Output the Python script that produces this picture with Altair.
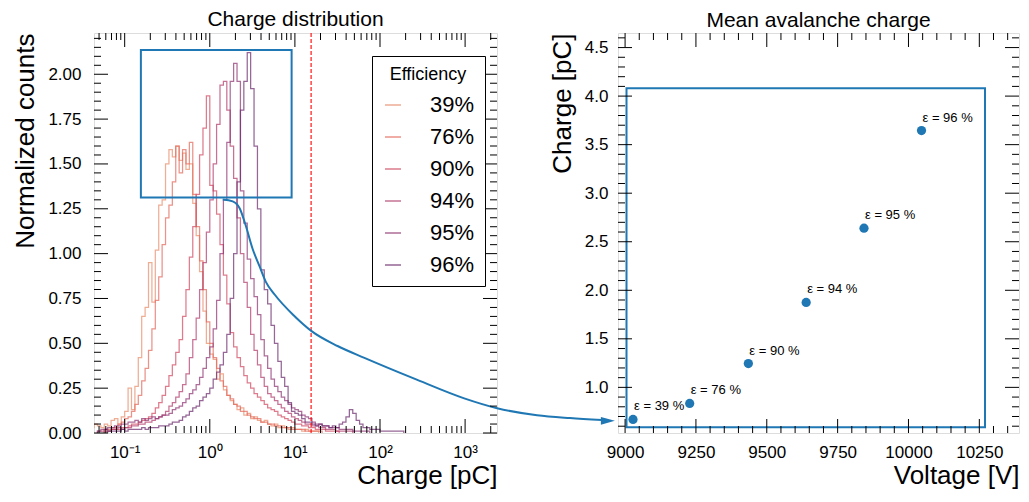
import altair as alt
import numpy as np
import pandas as pd

FONT = "Liberation Sans"
BLUE = "#1f77b4"

# ---------------- Left panel data: charge distributions ----------------
efficiencies = ["39%", "76%", "90%", "94%", "95%", "96%"]
line_colors = ["#e98d6b", "#e3685c", "#d14a61", "#b13c6c", "#8f3371", "#6c2b6d"]
log_bin_width = 0.04  # bins equally spaced in log10(charge)

start_39 = -1.40
counts_39 = [0.03, 0.05, 0.04, 0.03, 0.05, 0.04, 0.07, 0.08, 0.05, 0.09, 0.12, 0.25, 0.13, 0.26,
             0.42, 0.65, 0.70, 0.95, 0.73, 1.02, 1.27, 1.30, 1.50, 1.58, 1.54, 1.60, 1.52, 1.56,
             1.47, 1.50, 1.28, 1.10, 0.90, 0.68, 0.50, 0.44, 0.41, 0.30, 0.33, 0.24, 0.21, 0.18,
             0.16, 0.13, 0.14, 0.10, 0.11, 0.08, 0.09, 0.07, 0.06, 0.07, 0.05, 0.04, 0.05, 0.03,
             0.04, 0.03, 0.02, 0.03, 0.02, 0.02, 0.01, 0.02, 0.01, 0.01, 0.01]
start_76 = -1.24
counts_76 = [0.02, 0.02, 0.03, 0.03, 0.05, 0.06, 0.08, 0.09, 0.12, 0.16, 0.21, 0.29, 0.36, 0.46,
             0.58, 0.74, 0.87, 1.05, 1.20, 1.27, 1.40, 1.60, 1.45, 1.58, 1.50, 1.62, 1.33, 1.15,
             0.96, 0.80, 0.62, 0.50, 0.42, 0.36, 0.29, 0.26, 0.21, 0.19, 0.16, 0.15, 0.12, 0.12,
             0.10, 0.09, 0.08, 0.08, 0.06, 0.06, 0.05, 0.05, 0.04, 0.04, 0.03, 0.03, 0.03, 0.02,
             0.02, 0.02, 0.02, 0.01, 0.01, 0.01, 0.01, 0.01]
start_90 = -1.24
counts_90 = [0.01, 0.01, 0.02, 0.02, 0.02, 0.03, 0.03, 0.04, 0.05, 0.05, 0.06, 0.07, 0.08, 0.09,
             0.11, 0.14, 0.17, 0.21, 0.26, 0.32, 0.38, 0.45, 0.52, 0.65, 0.80, 0.98, 1.15, 1.33,
             1.55, 1.70, 1.88, 1.38, 1.35, 1.22, 1.05, 0.88, 0.72, 0.56, 0.48, 0.42, 0.37, 0.32,
             0.28, 0.25, 0.22, 0.20, 0.18, 0.16, 0.14, 0.13, 0.12, 0.10, 0.09, 0.08, 0.07, 0.06,
             0.05, 0.05, 0.04, 0.04, 0.03, 0.03, 0.02, 0.02, 0.02, 0.01, 0.01, 0.01, 0.01]
start_94 = -1.32
counts_94 = [0.01, 0.01, 0.02, 0.01, 0.02, 0.02, 0.03, 0.02, 0.03, 0.03, 0.04, 0.04, 0.05, 0.05,
             0.06, 0.06, 0.07, 0.08, 0.09, 0.10, 0.12, 0.15, 0.17, 0.20, 0.23, 0.27, 0.33, 0.42,
             0.52, 0.64, 0.80, 0.95, 1.12, 1.30, 1.50, 1.72, 1.94, 1.96, 1.80, 1.60, 1.42, 1.20,
             1.00, 0.84, 0.70, 0.55, 0.46, 0.38, 0.31, 0.26, 0.22, 0.20, 0.18, 0.16, 0.14, 0.12,
             0.11, 0.09, 0.08, 0.07, 0.06, 0.05, 0.05, 0.04, 0.04, 0.03, 0.03, 0.02, 0.02, 0.02,
             0.01, 0.01, 0.01, 0.01, 0.01]
start_95 = -1.32
counts_95 = [0.01, 0.02, 0.02, 0.03, 0.03, 0.04, 0.04, 0.05, 0.05, 0.06, 0.06, 0.07, 0.06, 0.08,
             0.07, 0.08, 0.09, 0.08, 0.09, 0.10, 0.10, 0.11, 0.13, 0.14, 0.15, 0.17, 0.19, 0.22,
             0.24, 0.27, 0.31, 0.36, 0.42, 0.48, 0.58, 0.74, 1.00, 1.30, 1.62, 1.96, 2.06, 1.96,
             1.35, 1.17, 0.97, 0.86, 0.76, 0.66, 0.52, 0.43, 0.36, 0.30, 0.26, 0.23, 0.20, 0.18,
             0.16, 0.14, 0.13, 0.12, 0.10, 0.09, 0.08, 0.06, 0.05, 0.05, 0.04, 0.04, 0.03, 0.03,
             0.03, 0.02, 0.02, 0.02, 0.02, 0.01, 0.01, 0.01, 0.01, 0.01]
start_96 = -1.20
counts_96 = [0.01, 0.01, 0.01, 0.01, 0.02, 0.01, 0.02, 0.02, 0.02, 0.02, 0.03, 0.02, 0.03, 0.03,
             0.03, 0.04, 0.04, 0.04, 0.05, 0.06, 0.06, 0.07, 0.09, 0.10, 0.12, 0.14, 0.15, 0.18,
             0.20, 0.22, 0.25, 0.30, 0.34, 0.38, 0.45, 0.55, 0.75, 1.00, 1.40, 1.80, 1.96, 2.12,
             1.92, 1.60, 1.25, 0.91, 0.80, 0.72, 0.60, 0.50, 0.40, 0.31, 0.26, 0.17, 0.12, 0.11,
             0.10, 0.08, 0.06, 0.06, 0.05, 0.04, 0.05, 0.04, 0.04, 0.03, 0.04, 0.03, 0.05, 0.06,
             0.09, 0.13, 0.11, 0.07, 0.05, 0.03, 0.03, 0.02, 0.02, 0.02, 0.01, 0.01, 0.01, 0.01,
             0.01, 0.01, 0.01]

hist_starts = [start_39, start_76, start_90, start_94, start_95, start_96]
hist_counts = [counts_39, counts_76, counts_90, counts_94, counts_95, counts_96]

threshold_pc = 15.5                      # red dashed line [pC]
zoom_box_left = {"x0": 0.155, "x1": 9.15, "y0": 1.313, "y1": 2.135}

# connector curve (in left-panel data units: pC, normalized counts)
conn_charge = [1.42, 1.86, 2.25, 2.64, 3.19, 3.86, 4.54, 5.78, 9.92, 15.7, 31.7, 65.6,
               253.0, 976.0, 2378.0, 7003.0, 17070.0, 40490.0]
conn_counts = [1.302, 1.291, 1.252, 1.158, 1.026, 0.927, 0.844, 0.772, 0.651, 0.568, 0.485,
               0.419, 0.303, 0.193, 0.138, 0.099, 0.083, 0.072]
arrow_tip = {"charge": 47600.0, "counts": 0.068}

# ---------------- Right panel data: mean avalanche charge ----------------
voltages = [9028, 9228, 9435, 9639, 9843, 10046]
mean_charge = [0.67, 0.835, 1.245, 1.875, 2.64, 3.645]
point_labels = ["ε = 39 %", "ε = 76 %", "ε = 90 %", "ε = 94 %", "ε = 95 %", "ε = 96 %"]
zoom_box_right = {"x0": 9005, "x1": 10270, "y0": 0.59, "y1": 4.08}

# axis ticks / labels
left_x_major = [0.1, 1, 10, 100, 1000]
left_x_major_labels = ["10⁻¹", "10⁰", "10¹", "10²", "10³"]
left_x_domain = [0.0436, 2370]
left_y_major = [0.0, 0.25, 0.5, 0.75, 1.0, 1.25, 1.5, 1.75, 2.0]
left_y_domain = [0.0, 2.23]
right_x_major = [9000, 9250, 9500, 9750, 10000, 10250]
right_x_domain = [8975, 10390]
right_y_major = [1.0, 1.5, 2.0, 2.5, 3.0, 3.5, 4.0, 4.5]
right_y_domain = [0.53, 4.65]

left_x_minor = [m * 10.0 ** e for e in range(-2, 4) for m in range(2, 10)
                if left_x_domain[0] <= m * 10.0 ** e <= left_x_domain[1]]
left_y_minor = [round(0.05 * i, 2) for i in range(0, 45) if round(0.05 * i, 2) not in left_y_major]
right_x_minor = [v for v in range(8950, 10400, 50)
                 if right_x_domain[0] <= v <= right_x_domain[1] and v not in right_x_major]
right_y_minor = [round(0.1 * i, 1) for i in range(6, 47)
                 if round(0.1 * i, 1) not in right_y_major and right_y_domain[0] <= 0.1 * i <= right_y_domain[1]]

WL, WR, H = 403, 401, 400
MAJ, MIN = 14, 7

# ---------------- build tables ----------------
rows = []
for eff, st, cnt in zip(efficiencies, hist_starts, hist_counts):
    edges = 10 ** (st + log_bin_width * np.arange(len(cnt) + 1))
    k = 0
    rows.append({"efficiency": eff, "charge": edges[0], "counts": 0.0, "idx": k}); k += 1
    for i, c in enumerate(cnt):
        rows.append({"efficiency": eff, "charge": edges[i], "counts": c, "idx": k}); k += 1
    rows.append({"efficiency": eff, "charge": edges[-1], "counts": 0.0, "idx": k})
hist_df = pd.DataFrame(rows)

conn_df = pd.DataFrame({"charge": conn_charge, "counts": conn_counts, "i": range(len(conn_charge))})
pts_df = pd.DataFrame({"voltage": voltages, "charge": mean_charge, "label": point_labels})

xs_left = alt.Scale(type="log", domain=left_x_domain, nice=False)
ys_left = alt.Scale(domain=left_y_domain, nice=False, zero=False)
xs_right = alt.Scale(domain=right_x_domain, nice=False, zero=False)
ys_right = alt.Scale(domain=right_y_domain, nice=False, zero=False)

label_expr = " : ".join(
    [f"datum.value < {v * 3.1622} ? '{lab}'" for v, lab in zip(left_x_major[:-1], left_x_major_labels[:-1])]
) + f" : '{left_x_major_labels[-1]}'"

axis_common = dict(ticks=False, domain=False, grid=False, labelFont=FONT, titleFont=FONT,
                   labelFontSize=17, titleFontSize=26, titleFontWeight="normal", labelColor="black",
                   titleColor="black", titleAnchor="end")

ax_left_x = alt.Axis(values=left_x_major, labelExpr=label_expr, title="Charge [pC]",
                     labelPadding=11, titlePadding=2, **axis_common)
ax_left_y = alt.Axis(values=left_y_major, format=".2f", title="Normalized counts",
                     labelPadding=13, titlePadding=9, **axis_common)
ax_right_x = alt.Axis(values=right_x_major, format="d", title="Voltage [V]",
                      labelPadding=11, titlePadding=2, **axis_common)
ax_right_y = alt.Axis(values=right_y_major, format=".1f", title="Charge [pC]",
                      labelPadding=10, titlePadding=9, **axis_common)


def x_ticks(values, xs, ax, length):
    d = pd.DataFrame({"t": values})
    base = alt.Chart(d).mark_rule(color="black", strokeWidth=1)
    bottom = base.encode(x=alt.X("t:Q", scale=xs, axis=ax, title=ax.title), y=alt.value(H), y2=alt.value(H - length))
    top = base.encode(x=alt.X("t:Q", scale=xs, axis=ax, title=ax.title), y=alt.value(0), y2=alt.value(length))
    return [bottom, top]


def y_ticks(values, ys, ax, length, width):
    d = pd.DataFrame({"t": values})
    base = alt.Chart(d).mark_rule(color="black", strokeWidth=1)
    left = base.encode(y=alt.Y("t:Q", scale=ys, axis=ax, title=ax.title), x=alt.value(0), x2=alt.value(length))
    right = base.encode(y=alt.Y("t:Q", scale=ys, axis=ax, title=ax.title), x=alt.value(width), x2=alt.value(width - length))
    return [left, right]


hist = alt.Chart(hist_df).mark_line(interpolate="step-after", strokeWidth=1.25, opacity=0.72, clip=True).encode(
    x=alt.X("charge:Q", scale=xs_left, axis=ax_left_x, title=ax_left_x.title),
    y=alt.Y("counts:Q", scale=ys_left, axis=ax_left_y, title=ax_left_y.title),
    color=alt.Color("efficiency:N", scale=alt.Scale(domain=efficiencies, range=line_colors),
                    legend=alt.Legend(title="Efficiency", orient="none", legendX=278, legendY=23,
                                      strokeColor="black", fillColor="white", padding=10,
                                      titleFont=FONT, titleFontSize=18, titleFontWeight="normal",
                                      titleColor="black", titleAnchor="middle", titlePadding=10,
                                      labelFont=FONT, labelFontSize=22, labelColor="black",
                                      labelOffset=26, rowPadding=10, symbolType="stroke",
                                      symbolSize=256, symbolStrokeWidth=1.5, symbolOpacity=0.72)),
    order="idx:Q",
)

thr = alt.Chart(pd.DataFrame({"thr": [threshold_pc]})).mark_rule(
    color="#ff0000", strokeDash=[4, 2], strokeWidth=1.1).encode(
    x=alt.X("thr:Q", scale=xs_left, axis=ax_left_x, title=ax_left_x.title))

box_left = alt.Chart(pd.DataFrame([zoom_box_left])).mark_rect(
    fillOpacity=0, stroke=BLUE, strokeWidth=2).encode(
    x=alt.X("x0:Q", scale=xs_left, axis=ax_left_x, title=ax_left_x.title), x2="x1:Q",
    y=alt.Y("y0:Q", scale=ys_left, axis=ax_left_y, title=ax_left_y.title), y2="y1:Q")

connector = alt.Chart(conn_df).mark_line(interpolate="monotone", color=BLUE, strokeWidth=2, clip=False).encode(
    x=alt.X("charge:Q", scale=xs_left, axis=ax_left_x, title=ax_left_x.title),
    y=alt.Y("counts:Q", scale=ys_left, axis=ax_left_y, title=ax_left_y.title), order="i:Q")

arrow = alt.Chart(pd.DataFrame([arrow_tip])).mark_point(
    shape="M-1,-0.55L1,0L-1,0.55Z", filled=True, color=BLUE, opacity=1, size=196, clip=False).encode(
    x=alt.X("charge:Q", scale=xs_left, axis=ax_left_x, title=ax_left_x.title),
    y=alt.Y("counts:Q", scale=ys_left, axis=ax_left_y, title=ax_left_y.title))

left_layers = [hist, thr, box_left, connector, arrow]
left_layers += x_ticks(left_x_major, xs_left, ax_left_x, MAJ) + x_ticks(left_x_minor, xs_left, ax_left_x, MIN)
left_layers += y_ticks(left_y_major, ys_left, ax_left_y, MAJ, WL) + y_ticks(left_y_minor, ys_left, ax_left_y, MIN, WL)

TITLE_OFFSET = -15
left = alt.layer(*left_layers).properties(
    width=WL, height=H,
    title=alt.Title("Charge distribution", font=FONT, fontSize=21, fontWeight="normal", color="black",
                    anchor="middle", baseline="alphabetic", offset=TITLE_OFFSET))

# right panel
points = alt.Chart(pts_df).mark_circle(size=85, color=BLUE, opacity=1).encode(
    x=alt.X("voltage:Q", scale=xs_right, axis=ax_right_x, title=ax_right_x.title),
    y=alt.Y("charge:Q", scale=ys_right, axis=ax_right_y, title=ax_right_y.title))

texts = alt.Chart(pts_df).mark_text(align="left", baseline="alphabetic", dx=1, dy=-9, fontSize=13,
                                     font=FONT, color="black").encode(
    x=alt.X("voltage:Q", scale=xs_right, axis=ax_right_x, title=ax_right_x.title),
    y=alt.Y("charge:Q", scale=ys_right, axis=ax_right_y, title=ax_right_y.title),
    text="label:N")

box_right = alt.Chart(pd.DataFrame([zoom_box_right])).mark_rect(
    fillOpacity=0, stroke=BLUE, strokeWidth=2).encode(
    x=alt.X("x0:Q", scale=xs_right, axis=ax_right_x, title=ax_right_x.title), x2="x1:Q",
    y=alt.Y("y0:Q", scale=ys_right, axis=ax_right_y, title=ax_right_y.title), y2="y1:Q")

right_layers = [box_right, points, texts]
right_layers += x_ticks(right_x_major, xs_right, ax_right_x, MAJ) + x_ticks(right_x_minor, xs_right, ax_right_x, MIN)
right_layers += y_ticks(right_y_major, ys_right, ax_right_y, MAJ, WR) + y_ticks(right_y_minor, ys_right, ax_right_y, MIN, WR)

right = alt.layer(*right_layers).properties(
    width=WR, height=H,
    title=alt.Title("Mean avalanche charge", font=FONT, fontSize=21, fontWeight="normal", color="black",
                    anchor="middle", baseline="alphabetic", offset=TITLE_OFFSET))

chart = alt.hconcat(left, right, spacing=121, bounds="flush",
                    padding={"left": 4, "top": 0, "right": 0, "bottom": 0}).resolve_scale(
    color="independent").configure_view(stroke="black", strokeWidth=1.2).configure(background="white")

chart.save("out.html", embed_options={"renderer": "svg", "actions": False})
